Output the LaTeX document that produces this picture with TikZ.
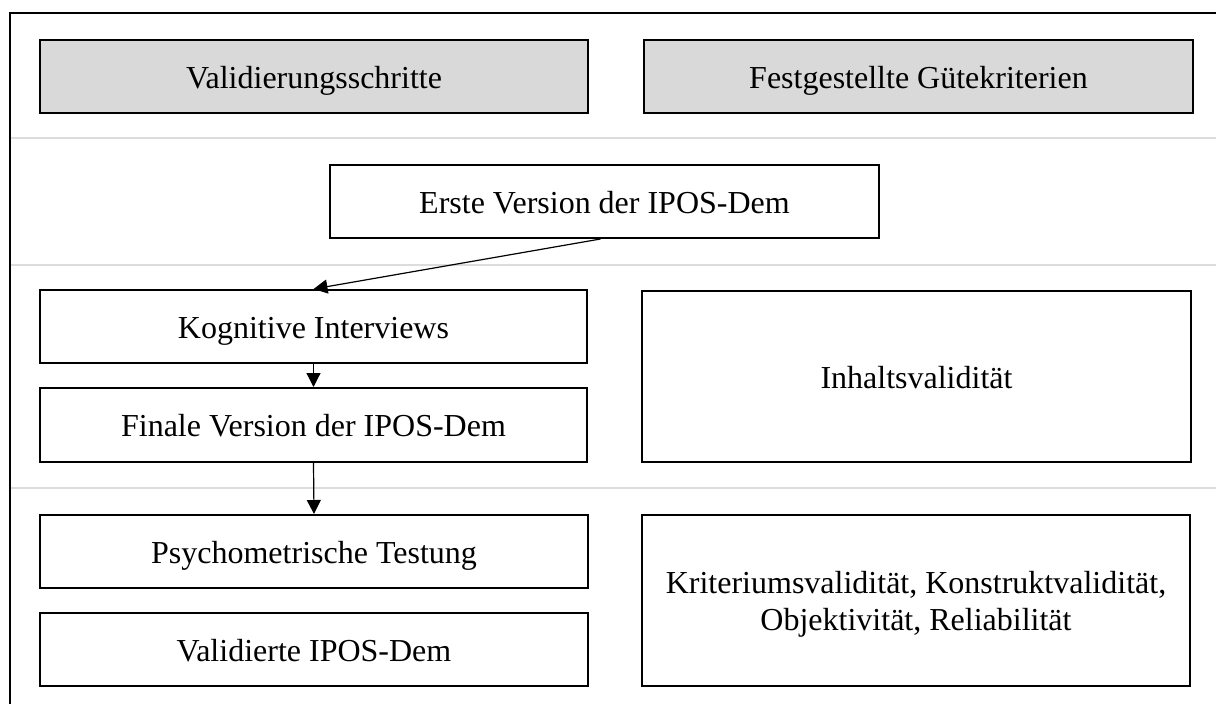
\documentclass[tikz,border=0pt]{standalone}
\usepackage{fontspec}
\setmainfont{Liberation Serif}
\usetikzlibrary{arrows.meta,calc}
\definecolor{hdrgray}{HTML}{D9D9D9}
\definecolor{sepgray}{HTML}{DCDCDC}
\begin{document}
\begin{tikzpicture}[x=1pt,y=-1pt,
  box/.style={draw=black,line width=2pt,fill=white,inner sep=0pt,font=\fontsize{32}{37}\selectfont,align=center,text height=30pt,text depth=7pt},
  hdr/.style={box,fill=hdrgray},
  sep/.style={draw=sepgray,line width=2.5pt},
  frame/.style={draw=black,line width=2pt},
  arr/.style={draw=black,line width=1.2pt,-{Triangle[length=14pt,width=14pt]}}]
\useasboundingbox (0,0) rectangle (1216,704);
% frame
\coordinate (fbl) at (10,710);
\coordinate (ftl) at (10,13);
\coordinate (ftr) at (1222,13);
\draw[frame] (fbl) -- (ftl) -- (ftr);
% separators
\coordinate (s1a) at (11,138); \coordinate (s1b) at (1216,138);
\coordinate (s2a) at (11,265); \coordinate (s2b) at (1216,265);
\coordinate (s3a) at (11,488); \coordinate (s3b) at (1216,488);
\draw[sep] (s1a) -- (s1b);
\draw[sep] (s2a) -- (s2b);
\draw[sep] (s3a) -- (s3b);
% headers
\node[hdr,minimum width=548pt,minimum height=73pt] (h1) at (314,76.5) {Validierungsschritte};
\node[hdr,minimum width=549pt,minimum height=73pt] (h2) at (918.5,76.5) {Festgestellte Gütekriterien};
% boxes
\node[box,minimum width=549pt,minimum height=73pt] (erste) at (604.5,201.5) {Erste Version der IPOS-Dem};
\node[box,minimum width=547pt,minimum height=73pt] (kog) at (313.5,326.5) {Kognitive Interviews};
\node[box,minimum width=547pt,minimum height=74pt] (fin) at (313.5,425) {Finale Version der IPOS-Dem};
\node[box,minimum width=549pt,minimum height=171pt] (inh) at (916.5,376.5) {Inhaltsvalidität};
\node[box,minimum width=548pt,minimum height=73pt] (psy) at (314,551.5) {Psychometrische Testung};
\node[box,minimum width=548pt,minimum height=73pt] (val) at (314,649.5) {Validierte IPOS-Dem};
\node[box,minimum width=548pt,minimum height=171pt,text height=67pt,text depth=7pt] (krit) at (916,600.5) {Kriteriumsvalidität, Konstruktvalidität,\\Objektivität, Reliabilität};
% arrows
\draw[arr] ($(erste.south)+(-4,0)$) -- (kog.north);
\draw[arr] (kog.south) -- (fin.north);
\draw[arr] (fin.south) -- (psy.north);
\end{tikzpicture}
\end{document}
